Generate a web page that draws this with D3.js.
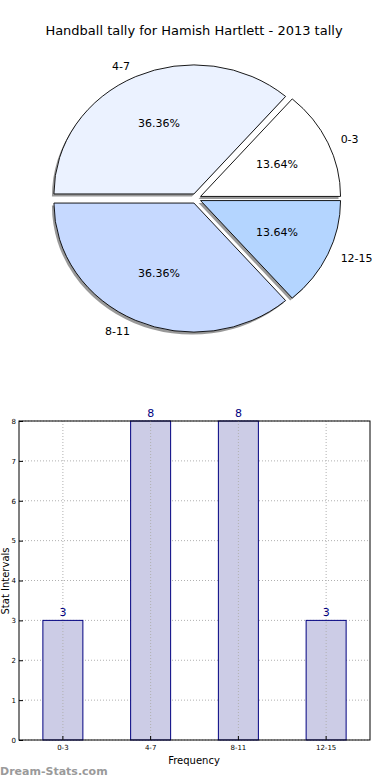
<!DOCTYPE html>
<html>
<head>
<meta charset="utf-8">
<script src="https://cdn.jsdelivr.net/npm/d3@7"></script>
<style>
  body { margin: 0; background: #fff; }
  svg { display: block; font-family: "DejaVu Sans", sans-serif; }
</style>
</head>
<body>
<svg id="canvas" width="390" height="780"></svg>
<script>
let title = 'Handball tally for Hamish Hartlett - 2013 tally'
let categories = ['0-3', '4-7', '8-11', '12-15']
let counts = [3, 8, 8, 3]
let pieColors = ['#ffffff', '#ebf2ff', '#c6d9ff', '#b4d5ff']
let yTicks = [0, 1, 2, 3, 4, 5, 6, 7, 8]

let canvas = d3.select('#canvas')

canvas.append('text')
    .attr('x', 194).attr('y', 35)
    .attr('text-anchor', 'middle')
    .style('font-size', '13px')
    .text(title)

// ---- pie (ellipse, matplotlib-like: starts at 3 o'clock, counterclockwise)
let cx = 196, cy = 198.5, rx = 140, ry = 129, explode = 5
let total = d3.sum(counts)

let pie = d3.pie().sort(null)
    .startAngle(Math.PI / 2)
    .endAngle(Math.PI / 2 - 2 * Math.PI)
let arcs = pie(counts)
let arc = d3.arc().innerRadius(0).outerRadius(1)

let pieG = canvas.append('g').attr('transform', `translate(${cx},${cy})`)

arcs.forEach((d, i) => {
    let mid = (d.startAngle + d.endAngle) / 2
    let dx = Math.sin(mid) * explode
    let dy = -Math.cos(mid) * explode
    // shadow
    pieG.append('path')
        .attr('d', arc(d))
        .attr('transform', `translate(${dx - 2},${dy + 2.5}) scale(${rx},${ry})`)
        .attr('fill', '#555')
        .attr('opacity', 0.6)
    pieG.append('path')
        .attr('d', arc(d))
        .attr('transform', `translate(${dx},${dy}) scale(${rx},${ry})`)
        .attr('fill', pieColors[i])
        .attr('stroke', '#000')
        .attr('stroke-width', 0.9)
        .attr('vector-effect', 'non-scaling-stroke')

    let ux = Math.sin(mid), uy = -Math.cos(mid)
    pieG.append('text')
        .attr('x', dx + ux * rx * 1.1)
        .attr('y', dy + uy * ry * 1.1 + (uy < 0 ? 2 : -1))
        .attr('text-anchor', ux < 0 ? 'end' : 'start')
        .attr('dominant-baseline', 'central')
        .style('font-size', '11px')
        .text(categories[i])
    pieG.append('text')
        .attr('x', dx + ux * rx * 0.6)
        .attr('y', dy + uy * ry * 0.6)
        .attr('text-anchor', 'middle')
        .attr('dominant-baseline', 'central')
        .style('font-size', '11px')
        .text((counts[i] / total * 100).toFixed(2) + '%')
})

// ---- bar chart
let plotLeft = 19, plotRight = 370, plotTop = 421, plotBottom = 740

let x = d3.scaleBand().domain(categories).range([plotLeft, plotRight])
let y = d3.scaleLinear().domain([0, 8]).range([plotBottom, plotTop])
let barW = 40

let gridH = canvas.append('g')
gridH.selectAll('line')
    .data(yTicks)
    .enter()
    .append('line')
    .attr('x1', plotLeft).attr('x2', plotRight)
    .attr('y1', (d) => y(d)).attr('y2', (d) => y(d))
    .attr('stroke', '#b0b0b0')
    .attr('stroke-dasharray', '1,2')

canvas.selectAll('rect.bar')
    .data(counts)
    .enter()
    .append('rect')
    .attr('class', 'bar')
    .attr('x', (d, i) => x(categories[i]) + x.bandwidth() / 2 - barW / 2)
    .attr('y', (d) => y(d))
    .attr('width', barW)
    .attr('height', (d) => plotBottom - y(d))
    .attr('fill', '#ccccE6')
    .attr('stroke', '#000080')
    .attr('stroke-width', 1)

canvas.append('g').selectAll('line')
    .data(categories)
    .enter()
    .append('line')
    .attr('x1', (d) => x(d) + x.bandwidth() / 2)
    .attr('x2', (d) => x(d) + x.bandwidth() / 2)
    .attr('y1', plotTop).attr('y2', plotBottom)
    .attr('stroke', '#b0b0b0')
    .attr('stroke-dasharray', '1,2')

canvas.selectAll('text.val')
    .data(counts)
    .enter()
    .append('text')
    .attr('class', 'val')
    .attr('x', (d, i) => x(categories[i]) + x.bandwidth() / 2)
    .attr('y', (d) => y(d) - 4)
    .attr('text-anchor', 'middle')
    .attr('fill', '#000080')
    .style('font-size', '11px')
    .text((d) => d)

canvas.append('rect')
    .attr('x', plotLeft).attr('y', plotTop)
    .attr('width', plotRight - plotLeft).attr('height', plotBottom - plotTop)
    .attr('fill', 'none')
    .attr('stroke', '#000')
    .attr('stroke-width', 1)

let yAxis = d3.axisLeft(y).tickValues(yTicks).tickSize(-4).tickPadding(3)
canvas.append('g')
    .attr('transform', `translate(${plotLeft},0)`)
    .call(yAxis)
    .call((g) => g.select('.domain').remove())
    .call((g) => g.selectAll('text').style('font-size', '7px').style('font-family', 'DejaVu Sans'))

let xAxis = d3.axisBottom(x).tickSize(-4).tickPadding(5)
canvas.append('g')
    .attr('transform', `translate(0,${plotBottom})`)
    .call(xAxis)
    .call((g) => g.select('.domain').remove())
    .call((g) => g.selectAll('text').style('font-size', '7px').style('font-family', 'DejaVu Sans'))

canvas.append('text')
    .attr('x', 194).attr('y', 764)
    .attr('text-anchor', 'middle')
    .style('font-size', '10px')
    .text('Frequency')

canvas.append('text')
    .attr('transform', 'translate(9,581) rotate(-90)')
    .attr('text-anchor', 'middle')
    .style('font-size', '10px')
    .text('Stat Intervals')

canvas.append('text')
    .attr('x', 0).attr('y', 775)
    .attr('fill', '#9a9a9a')
    .style('font-size', '11px')
    .style('font-weight', 'bold')
    .text('Dream-Stats.com')
</script>
</body>
</html>
